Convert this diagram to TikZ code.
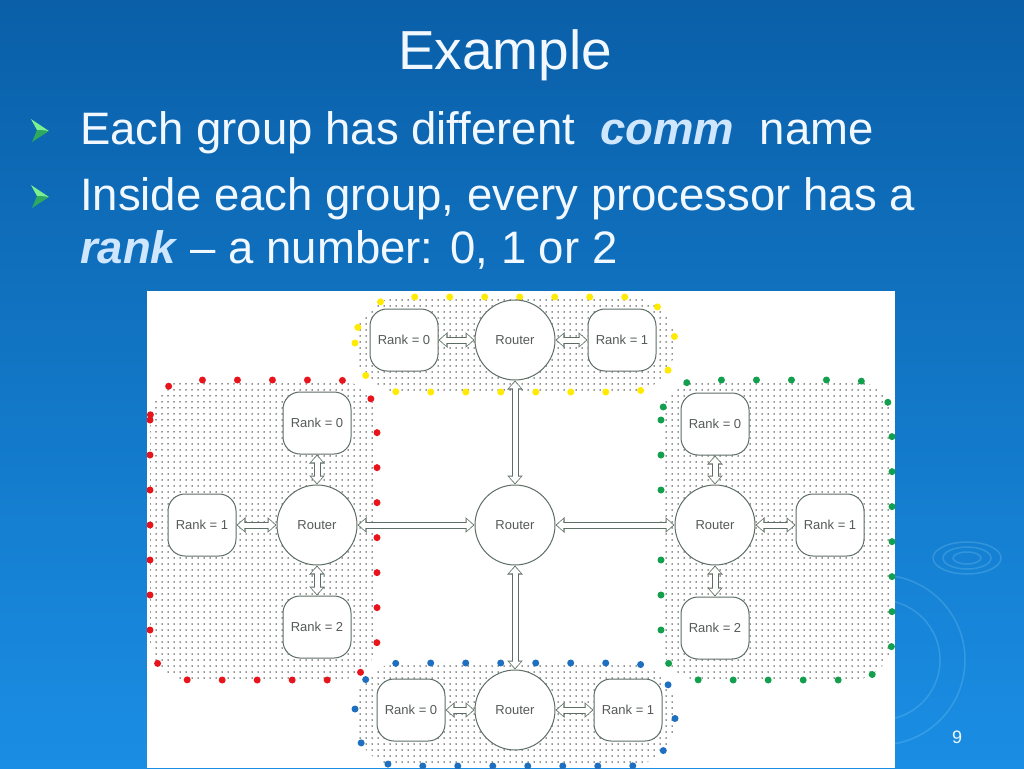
\documentclass[tikz,border=0pt]{standalone}
\usepackage{fontspec}
\setmainfont{Liberation Sans}
\usetikzlibrary{arrows.meta,patterns.meta}
\definecolor{bgtop}{HTML}{0A5FA8}
\definecolor{bgbot}{HTML}{1A8EE4}
\definecolor{txt}{HTML}{F2F8FF}
\definecolor{emph}{HTML}{CFE6FF}
\definecolor{linecol}{HTML}{5E6E64}
\definecolor{labcol}{HTML}{555A58}
\definecolor{dotred}{HTML}{E8141B}
\definecolor{dotyel}{HTML}{FFEA00}
\definecolor{dotgrn}{HTML}{12A04E}
\definecolor{dotblu}{HTML}{1F6FC0}
\definecolor{bulgrn}{HTML}{7CF08C}
\definecolor{bulgrnd}{HTML}{2FA860}
\tikzset{
  rankbox/.style={draw=linecol, line width=1pt, fill=white, rounded corners=17pt,
    minimum width=68pt, minimum height=62pt, inner sep=0pt, text=labcol,
    font=\fontsize{13}{15}\selectfont},
  router/.style={draw=linecol, line width=1pt, fill=white, circle, minimum size=80pt,
    inner sep=0pt, text=labcol, font=\fontsize{13}{15}\selectfont},
  link/.style={draw=linecol, line width=7pt,
    {Triangle[length=9pt,width=15pt]}-{Triangle[length=9pt,width=15pt]},
    postaction={draw=white, line width=5pt,
      {Triangle[length=6.5pt,width=11.5pt]}-{Triangle[length=6.5pt,width=11.5pt]},
      shorten <=1.4pt, shorten >=1.4pt}},
  groupfill/.style={pattern={Dots[distance=6pt,radius=0.75pt]}, pattern color=black!85},
  rim/.style={line width=7pt, line cap=round, dash pattern=on 0pt off 35pt},
  bodytext/.style={anchor=base west, text=txt, inner sep=0pt, font=\fontsize{45.5}{52}\selectfont},
  ripple/.style={draw=cyan!40!white, opacity=0.22, line width=1.5pt}
}
\begin{document}
\begin{tikzpicture}[x=1pt,y=-1pt]
\useasboundingbox (0,0) rectangle (1024,768);
% background
\shade[top color=bgtop, bottom color=bgbot] (0,0) rectangle (1024,768);
% ripples
\draw[ripple] (967,558) ellipse (14 and 6);
\draw[ripple] (967,558) ellipse (24 and 11);
\draw[ripple] (967,558) ellipse (34 and 16);
\draw[ripple] (880,660) circle (60);
\draw[ripple] (880,660) circle (85);
% title
\node[text=txt, font=\fontsize{55}{62}\selectfont, anchor=base] (title) at (505,69) {Example};
% bullets
\foreach \yy in {130, 196} {
  \fill[bulgrn] (31,\yy-11) -- (49,\yy+1) -- (37,\yy) -- cycle;
  \fill[bulgrnd] (37,\yy) -- (49,\yy+1) -- (32,\yy+12) -- cycle;
}
\node[bodytext] (l1) at (80,144) {Each group has different \ \textcolor{emph}{\textbf{\textit{comm}}} \ name};
\node[bodytext] (l2) at (80,210) {Inside each group, every processor has a};
\node[bodytext] (l3) at (80,263) {\textcolor{emph}{\textbf{\textit{rank}}} -- a number: 0, 1 or 2};
% white panel
\fill[white] (147,291) rectangle (895,768);
% groups
\begin{scope}
\clip (147,291) rectangle (895,768);
\path[groupfill] (355,297) [rounded corners=46pt] rectangle (675,392);
\draw[rim, dotyel] (355,297) [rounded corners=46pt] rectangle (675,392);
\path[groupfill] (150,380) [rounded corners=40pt] rectangle (377,680);
\draw[rim, dotred] (150,380) [rounded corners=40pt] rectangle (377,680);
\path[groupfill] (661,380) [rounded corners=40pt] rectangle (892,680);
\draw[rim, dotgrn] (661,380) [rounded corners=40pt] rectangle (892,680);
\path[groupfill] (355,663) [rounded corners=46pt] rectangle (675,766);
\draw[rim, dotblu] (355,663) [rounded corners=46pt] rectangle (675,766);
\end{scope}
% nodes
\node[router] (C) at (515,525) {Router};
\node[router] (TR) at (515,340) {Router};
\node[rankbox] (T0) at (404,340) {Rank = 0};
\node[rankbox] (T1) at (622,340) {Rank = 1};
\node[router] (LR) at (317,525) {Router};
\node[rankbox] (L0) at (317,423) {Rank = 0};
\node[rankbox] (L1) at (202,525) {Rank = 1};
\node[rankbox] (L2) at (317,627) {Rank = 2};
\node[router] (RR) at (715,525) {Router};
\node[rankbox] (R0) at (715,424) {Rank = 0};
\node[rankbox] (R1) at (830,525) {Rank = 1};
\node[rankbox] (R2) at (715,628) {Rank = 2};
\node[router] (BR) at (515,710) {Router};
\node[rankbox] (B0) at (411,710) {Rank = 0};
\node[rankbox] (B1) at (628,710) {Rank = 1};
% links
\draw[link] (T0) -- (TR);
\draw[link] (TR) -- (T1);
\draw[link] (TR) -- (C);
\draw[link] (L0) -- (LR);
\draw[link] (L1) -- (LR);
\draw[link] (LR) -- (L2);
\draw[link] (LR) -- (C);
\draw[link] (R0) -- (RR);
\draw[link] (RR) -- (R1);
\draw[link] (RR) -- (R2);
\draw[link] (C) -- (RR);
\draw[link] (C) -- (BR);
\draw[link] (B0) -- (BR);
\draw[link] (BR) -- (B1);
% page number
\node[text=txt, font=\fontsize{18}{20}\selectfont] (pg) at (957,737) {9};
\end{tikzpicture}
\end{document}
